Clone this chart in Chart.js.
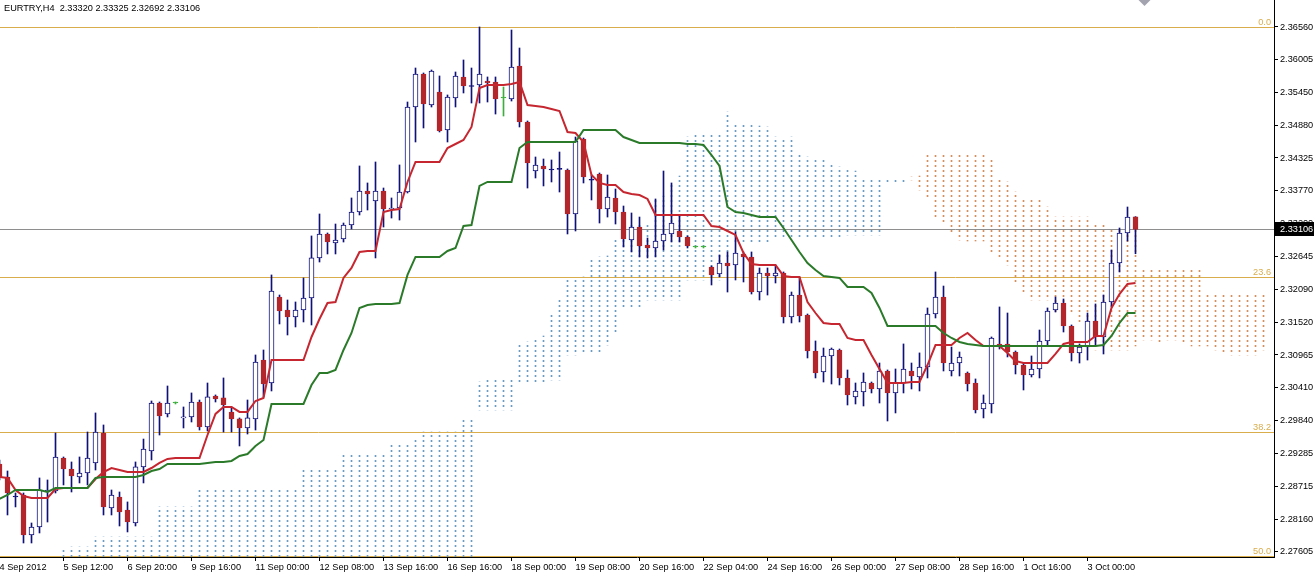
<!DOCTYPE html>
<html><head><meta charset="utf-8">
<script src="https://cdn.jsdelivr.net/npm/chart.js@4.4.1/dist/chart.umd.min.js"></script>
<style>html,body{margin:0;padding:0;background:#fff;overflow:hidden}canvas{display:block}</style>
</head><body>
<canvas id="c" width="1314" height="575" style="width:1314px;height:575px"></canvas>
<script>
const titleText = "EURTRY,H4  2.33320 2.33325 2.32692 2.33106";

const opens = [2.29106,2.28884,2.28543,2.28577,2.27895,2.28031,2.28628,2.28645,2.29208,2.29020,
2.28884,2.28952,2.29123,2.29634,2.28356,2.28543,2.28321,2.28099,2.29055,2.29327,
2.30146,2.29959,2.30146,2.29891,2.29908,2.30163,2.29737,2.30266,2.30232,2.29993,
2.29874,2.29720,2.29874,2.30879,2.30487,2.31954,2.31732,2.31613,2.31732,2.31937,
2.32620,2.33029,2.32875,2.32943,2.33182,2.33404,2.33762,2.33592,2.33762,2.33455,
2.33472,2.33745,2.35195,2.35758,2.35229,2.35451,2.34803,2.35349,2.35707,2.35553,
2.35570,2.35639,2.35621,2.35349,2.35331,2.35894,2.34939,2.34103,2.34189,2.34120,
2.34138,2.34120,2.33370,2.34649,2.33950,2.34052,2.33455,2.33643,2.33404,2.32926,
2.33148,2.32841,2.32790,2.32909,2.33029,2.33080,2.32977,2.32807,2.32807,2.32466,
2.32347,2.32534,2.32500,2.32688,2.32637,2.32039,2.32364,2.32313,2.32364,2.31613,
2.31988,2.31647,2.31033,2.30675,2.30948,2.31050,2.30573,2.30249,2.30334,2.30487,
2.30385,2.30692,2.30317,2.30487,2.30692,2.30590,2.30760,2.31664,2.31954,2.30692,
2.30828,2.30658,2.30487,2.30044,2.30129,2.31153,2.31153,2.31016,2.30794,2.30624,
2.30726,2.31204,2.31732,2.31852,2.31460,2.31000,2.31101,2.31545,2.31272,2.31869,
2.32534,2.33046,2.33320];
const highs = [2.29174,2.28986,2.28611,2.28611,2.28099,2.28867,2.28833,2.29634,2.29225,2.29140,
2.29225,2.29651,2.29976,2.29771,2.28662,2.28628,2.28458,2.29140,2.29531,2.30180,
2.30163,2.30436,2.30163,2.30078,2.30317,2.30197,2.30487,2.30283,2.30573,2.30078,
2.29891,2.30197,2.30965,2.31050,2.32330,2.31988,2.31903,2.31869,2.32279,2.32995,
2.33370,2.33046,2.33199,2.33216,2.33643,2.34189,2.33899,2.34257,2.33813,2.33643,
2.34206,2.35280,2.35860,2.35775,2.35826,2.35724,2.35400,2.35792,2.35997,2.35860,
2.36560,2.35707,2.35707,2.35536,2.36508,2.36201,2.34956,2.34342,2.34308,2.34291,
2.34427,2.34138,2.34683,2.34666,2.34035,2.34069,2.34035,2.33796,2.33506,2.33387,
2.33318,2.32960,2.33626,2.34103,2.33899,2.33353,2.32995,2.32824,2.32824,2.32483,
2.32671,2.32722,2.33063,2.32722,2.32722,2.32449,2.32449,2.32500,2.32381,2.32039,
2.32296,2.31664,2.31204,2.31084,2.31084,2.31067,2.30709,2.30487,2.30658,2.30504,
2.30828,2.30709,2.30726,2.31153,2.30828,2.31000,2.31767,2.32381,2.32141,2.31101,
2.31016,2.30675,2.30556,2.30283,2.31272,2.31784,2.31681,2.31033,2.30828,2.30948,
2.31391,2.31767,2.31954,2.31920,2.31477,2.31153,2.31681,2.31835,2.31988,2.32756,
2.33131,2.33489,2.33325];
const lows = [2.28833,2.28236,2.28373,2.27758,2.27758,2.27929,2.28116,2.28611,2.28748,2.28628,
2.28782,2.28748,2.29003,2.28236,2.28236,2.28048,2.27946,2.28048,2.28782,2.29174,
2.29600,2.29908,2.30129,2.29720,2.29822,2.29685,2.29668,2.30163,2.29651,2.29651,
2.29413,2.29617,2.29685,2.30249,2.30351,2.31494,2.31306,2.31443,2.31528,2.31477,
2.32551,2.32688,2.32688,2.32892,2.33114,2.33353,2.33438,2.32620,2.33148,2.33301,
2.33267,2.33728,2.34598,2.34837,2.35195,2.34769,2.34598,2.35195,2.35434,2.35263,
2.35263,2.35280,2.35075,2.35041,2.35297,2.34854,2.33813,2.33984,2.33848,2.33916,
2.33745,2.33029,2.33080,2.33899,2.33609,2.33216,2.33318,2.33199,2.32807,2.32722,
2.32637,2.32620,2.32637,2.32756,2.32892,2.32892,2.32790,2.32790,2.32790,2.32159,
2.32296,2.32039,2.32244,2.32210,2.32005,2.31903,2.31988,2.32193,2.31511,2.31511,
2.31528,2.30914,2.30573,2.30504,2.30470,2.30453,2.30112,2.30129,2.30095,2.30317,
2.30146,2.29839,2.29976,2.30317,2.30385,2.30351,2.30573,2.31596,2.30692,2.30607,
2.30607,2.30351,2.29976,2.29891,2.29976,2.31067,2.30931,2.30641,2.30368,2.30590,
2.30573,2.31118,2.31698,2.31357,2.30862,2.30828,2.30879,2.31135,2.30982,2.31784,
2.32381,2.32909,2.32692];
const closes = [2.28884,2.28611,2.28545,2.27895,2.28031,2.28662,2.28662,2.29225,2.29020,2.28901,
2.28952,2.29208,2.29651,2.28373,2.28577,2.28287,2.28116,2.29055,2.29361,2.30146,
2.29925,2.30146,2.30146,2.29908,2.30163,2.29737,2.30249,2.30214,2.30112,2.29874,
2.29720,2.29891,2.30845,2.30470,2.32056,2.31715,2.31613,2.31732,2.31937,2.32620,
2.33029,2.32892,2.32926,2.33182,2.33404,2.33762,2.33711,2.33762,2.33455,2.33472,
2.33745,2.35195,2.35758,2.35246,2.35809,2.34786,2.35366,2.35724,2.35553,2.35545,
2.35758,2.35604,2.35331,2.35349,2.35877,2.34939,2.34240,2.34206,2.34138,2.34128,
2.34130,2.33370,2.34615,2.34001,2.33945,2.33455,2.33660,2.33404,2.32943,2.33148,
2.32824,2.32790,2.32909,2.33029,2.33216,2.32977,2.32824,2.32807,2.32807,2.32330,
2.32534,2.32483,2.32705,2.32637,2.32039,2.32364,2.32313,2.32364,2.31613,2.31988,
2.31630,2.31033,2.30658,2.30948,2.31067,2.30573,2.30283,2.30351,2.30504,2.30385,
2.30692,2.30317,2.30487,2.30726,2.30607,2.30760,2.31664,2.31954,2.30828,2.30828,
2.30931,2.30470,2.30027,2.30146,2.31255,2.31101,2.31016,2.30794,2.30624,2.30726,
2.31204,2.31715,2.31852,2.31460,2.31000,2.31101,2.31545,2.31272,2.31869,2.32534,
2.33046,2.33318,2.33106];

const tenkan = [2.28884,2.28867,2.28662,2.28560,2.28526,2.28526,2.28526,2.28679,2.28696,2.28696,
2.28696,2.28696,2.28850,2.28969,2.29037,2.29003,2.28969,2.28969,2.28969,2.29037,
2.29123,2.29191,2.29208,2.29208,2.29208,2.29208,2.29600,2.29959,2.30078,2.30078,
2.29993,2.29993,2.30180,2.30232,2.30879,2.30879,2.30879,2.30879,2.30879,2.31272,
2.31579,2.31852,2.31869,2.32279,2.32449,2.32722,2.32739,2.32739,2.33404,2.33438,
2.33455,2.33916,2.34257,2.34257,2.34257,2.34257,2.34495,2.34564,2.34632,2.34854,
2.35519,2.35570,2.35570,2.35570,2.35587,2.35621,2.35229,2.35212,2.35195,2.35161,
2.35127,2.34769,2.34751,2.34598,2.34035,2.33899,2.33864,2.33864,2.33745,2.33711,
2.33694,2.33626,2.33353,2.33353,2.33353,2.33353,2.33353,2.33353,2.33353,2.33165,
2.33148,2.33080,2.33012,2.32705,2.32517,2.32500,2.32500,2.32500,2.32313,2.32296,
2.32296,2.31869,2.31681,2.31511,2.31494,2.31494,2.31255,2.31221,2.31221,2.30965,
2.30726,2.30487,2.30487,2.30487,2.30504,2.30504,2.30794,2.31135,2.31135,2.31135,
2.31255,2.31340,2.31221,2.31118,2.31118,2.31118,2.31000,2.30862,2.30828,2.30828,
2.30828,2.30828,2.30982,2.31153,2.31187,2.31187,2.31187,2.31289,2.31289,2.31767,
2.32005,2.32176,2.32193];
const kijun = [2.28509,2.28577,2.28662,2.28662,2.28662,2.28662,2.28628,2.28696,2.28696,2.28696,
2.28696,2.28696,2.28867,2.28884,2.28884,2.28884,2.28884,2.28884,2.28918,2.28986,
2.29020,2.29106,2.29106,2.29106,2.29106,2.29106,2.29123,2.29140,2.29140,2.29157,
2.29242,2.29276,2.29413,2.29515,2.30129,2.30129,2.30129,2.30129,2.30129,2.30453,
2.30658,2.30658,2.30709,2.31050,2.31340,2.31767,2.31818,2.31835,2.31835,2.31835,
2.31852,2.32330,2.32637,2.32637,2.32637,2.32637,2.32739,2.32790,2.33165,2.33182,
2.33848,2.33916,2.33916,2.33916,2.33916,2.34495,2.34598,2.34598,2.34598,2.34598,
2.34598,2.34598,2.34598,2.34803,2.34803,2.34803,2.34803,2.34803,2.34683,2.34632,
2.34581,2.34581,2.34581,2.34581,2.34581,2.34581,2.34564,2.34564,2.34547,2.34376,
2.34189,2.33489,2.33404,2.33387,2.33353,2.33318,2.33318,2.33318,2.33131,2.32926,
2.32722,2.32534,2.32415,2.32313,2.32296,2.32279,2.32124,2.32124,2.32124,2.32022,
2.31767,2.31460,2.31460,2.31460,2.31460,2.31460,2.31460,2.31460,2.31340,2.31255,
2.31187,2.31153,2.31135,2.31118,2.31118,2.31118,2.31118,2.31118,2.31118,2.31118,
2.31118,2.31118,2.31118,2.31118,2.31118,2.31118,2.31118,2.31118,2.31135,2.31289,
2.31511,2.31681,2.31681];

const spanA = [null,null,null,null,null,null,null,null,
2.27673,2.27690,2.27690,2.27690,
2.27860,2.27860,2.27860,2.27860,2.27860,2.27860,2.27860,2.27860,
2.28373,2.28373,2.28373,2.28373,2.28373,
2.28696,2.28696,2.28696,2.28696,2.28696,2.28696,2.28696,2.28696,2.28696,2.28696,2.28696,2.28696,2.28696,
2.29003,2.29003,2.29003,2.29003,2.29003,
2.29259,2.29259,2.29259,2.29259,2.29259,2.29259,
2.29430,2.29430,2.29430,
2.29515,
2.29651,2.29651,2.29651,2.29651,2.29651,
2.29891,2.29891,
2.30504,
2.30538,2.30538,2.30538,2.30538,
2.31135,2.31187,2.31255,2.31289,
2.31664,2.31903,
2.32244,2.32279,2.32296,
2.32620,2.32637,2.32654,
2.32926,
2.33182,2.33182,2.33182,2.33182,
2.33609,2.33677,2.33899,2.34018,
2.34683,
2.34734,2.34734,2.34734,2.34734,
2.35109,
2.34905,2.34905,2.34888,2.34871,2.34854,
2.34683,2.34666,2.34683,
2.34410,2.34342,2.34325,2.34325,
2.34206,2.34172,2.34138,2.34103,
2.33967,2.33950,2.33950,2.33950,2.33950,2.33950,2.33950,
2.33779,
2.33660,2.33284,2.33199,2.33046,2.32926,
2.32909,2.32909,2.32909,
2.32722,2.32603,2.32500,2.32193,2.32039,
2.31903,2.31903,2.31903,
2.31681,2.31664,2.31664,2.31494,2.31238,
2.31050,2.31050,2.31050,2.31050,2.31050,
2.31118,2.31221,2.31221,2.31187,2.31221,2.31221,2.31170,2.31118,2.31118,
2.31118,2.31050,2.31000,2.30965,2.30965,2.30965,2.30965,2.31050];
const spanB = [null,null,null,null,null,null,null,null,
2.27000,2.27000,2.27000,2.27000,2.27000,2.27000,2.27000,2.27000,2.27000,2.27000,
2.27000,2.27000,2.27000,2.27000,2.27000,2.27000,2.27000,2.27000,2.27000,2.27000,
2.27000,2.27000,2.27000,2.27000,2.27000,2.27000,2.27000,2.27000,2.27000,2.27000,
2.27000,2.27000,2.27000,2.27000,2.27000,2.27000,2.27000,2.27000,2.27000,2.27000,
2.27000,2.27000,2.27000,2.27000,2.27000,2.27000,2.27000,2.27000,2.27000,2.27000,
2.27000,2.27000,
2.30027,2.30027,2.30027,2.30027,2.30027,
2.30487,2.30487,2.30487,2.30487,
2.30538,2.30538,
2.30965,2.30965,
2.31000,2.31000,2.31000,
2.31135,
2.31340,
2.31784,2.31784,2.31784,
2.31903,2.31903,2.31903,2.31903,2.31903,
2.32244,2.32244,2.32244,2.32244,2.32244,
2.32637,
2.32875,2.32875,2.32875,2.32875,2.32875,
2.32977,2.32977,2.32977,2.32977,2.32977,2.32977,2.32977,2.32977,2.32977,
2.33012,2.33012,2.33012,2.33012,2.33012,
2.33882,2.33916,2.33916,2.34001,2.34018,
2.34376,2.34376,2.34376,2.34376,2.34376,2.34376,2.34376,2.34376,
2.34325,2.33950,2.33916,2.33745,
2.33609,2.33609,2.33609,
2.33489,
2.33318,2.33318,2.33318,2.33318,2.33318,
2.33216,2.33216,
2.33097,2.33097,2.33097,2.33097,
2.32415,2.32415,2.32415,2.32415,2.32415,2.32415,2.32415,2.32415,
2.31988,2.31988,2.31988,2.31988,2.31988,2.31988,2.31988,2.31988];

const xTickBars = [0,8,16,24,32,40,48,56,64,72,80,88,96,104,112,120,128,136];
const xTickLabels = ["4 Sep 2012","5 Sep 12:00","6 Sep 20:00","9 Sep 16:00","11 Sep 00:00","12 Sep 08:00",
"13 Sep 16:00","16 Sep 16:00","18 Sep 00:00","19 Sep 08:00","20 Sep 16:00","22 Sep 04:00",
"24 Sep 16:00","26 Sep 00:00","27 Sep 08:00","28 Sep 16:00","1 Oct 16:00","3 Oct 00:00"];
const yTickValues = [2.36560,2.36005,2.35450,2.34880,2.34325,2.33770,2.33200,2.32645,2.32090,
2.31520,2.30965,2.30410,2.29840,2.29285,2.28715,2.28160,2.27605];
const fibLevels = [2.36560,2.32290,2.29643,2.27530];
const fibLabels = ["0.0","23.6","38.2","50.0"];
const currentPrice = 2.33106;

const Y_MIN = 2.27519, Y_MAX = 2.37020;
const X_MIN = 0.0625, X_MAX = 159.3125;
const FONT = '"Liberation Sans", Arial, sans-serif';
const FS = 9.2;
const BULL = '#10107a', BEAR = '#b3262b', DOJI = '#3dae3d', FIB = '#d9ad4c';

const n = closes.length;
const bodyData = [], wickData = [], bodyFill = [], bodyLine = [], wickCol = [];
for (let i = 0; i < n; i++) {
  const o = opens[i], c = closes[i];
  bodyData.push({x: i, y: [Math.min(o, c), Math.max(o, c)]});
  wickData.push({x: i, y: [lows[i], highs[i]]});
  const tiny = Math.abs(c - o) < 0.0001;
  if (o === c) { bodyFill.push(DOJI); bodyLine.push(DOJI); wickCol.push(DOJI); }
  else if (c > o) { bodyFill.push(tiny ? BULL : '#ffffff'); bodyLine.push(BULL); wickCol.push(BULL); }
  else { bodyFill.push(tiny ? BULL : BEAR); bodyLine.push(tiny ? BULL : BEAR); wickCol.push(tiny ? BULL : BULL); }
}

function dotPattern(color) {
  const pc = document.createElement('canvas');
  pc.width = 1; pc.height = 5;
  const g = pc.getContext('2d');
  g.fillStyle = color; g.fillRect(0, 0, 1, 2);
  return document.getElementById('c').getContext('2d').createPattern(pc, 'repeat');
}
const bluePat = dotPattern('#6b9bc3');
const orangePat = dotPattern('#d48f5c');
const cloudData = [], cloudCol = [];
for (let i = 0; i < spanA.length; i++) {
  if (spanA[i] === null) continue;
  cloudData.push({x: i, y: [Math.min(spanA[i], spanB[i]), Math.max(spanA[i], spanB[i])]});
  cloudCol.push(spanA[i] >= spanB[i] ? bluePat : orangePat);
}

const overlay = {
  id: 'overlay',
  beforeDatasetsDraw(chart) {
    const {ctx, chartArea: a, scales: {y}} = chart;
    ctx.save();
    ctx.lineWidth = 1;
    ctx.strokeStyle = FIB;
    fibLevels.forEach(v => {
      const py = Math.round(y.getPixelForValue(v)) + 0.5;
      ctx.beginPath(); ctx.moveTo(a.left, py); ctx.lineTo(a.right, py); ctx.stroke();
    });
    const cp = Math.round(y.getPixelForValue(currentPrice)) + 0.5;
    ctx.strokeStyle = '#8e8e8e';
    ctx.beginPath(); ctx.moveTo(a.left, cp); ctx.lineTo(a.right, cp); ctx.stroke();
    ctx.restore();
  },
  afterDraw(chart) {
    const {ctx, chartArea: a, scales: {x, y}} = chart;
    ctx.save();
    ctx.font = FS + 'px ' + FONT;
    ctx.fillStyle = FIB;
    ctx.textAlign = 'right';
    ctx.textBaseline = 'bottom';
    fibLevels.forEach((v, i) => {
      const py = Math.round(y.getPixelForValue(v));
      ctx.fillText(fibLabels[i], a.right - 3, py);
    });
    ctx.fillStyle = '#000';
    ctx.textAlign = 'left';
    ctx.textBaseline = 'middle';
    ctx.fillText(titleText, 4, 8);
    const cp = Math.round(y.getPixelForValue(currentPrice));
    ctx.fillStyle = '#000';
    ctx.fillRect(a.right + 1, cp - 7, 39, 14);
    ctx.fillStyle = '#fff';
    ctx.fillText(currentPrice.toFixed(5), a.right + 6, cp + 0.5);
    const sx = Math.round(x.getPixelForValue(n)) + 0.5;
    ctx.fillStyle = '#a3a3b0';
    ctx.beginPath(); ctx.moveTo(sx - 6, 0); ctx.lineTo(sx + 6, 0); ctx.lineTo(sx, 6); ctx.closePath(); ctx.fill();
    ctx.restore();
  }
};

new Chart(document.getElementById('c'), {
  type: 'bar',
  data: {
    datasets: [
      {type: 'line', data: kijun.map((v, i) => ({x: i, y: v})), borderColor: '#2a7a2a', borderWidth: 2,
        pointRadius: 0, tension: 0, fill: false, order: 1},
      {type: 'line', data: tenkan.map((v, i) => ({x: i, y: v})), borderColor: '#c5262f', borderWidth: 2,
        pointRadius: 0, tension: 0, fill: false, order: 2},
      {data: bodyData, backgroundColor: bodyFill, borderColor: bodyLine, borderWidth: 1, borderSkipped: false,
        barThickness: 5, minBarLength: 1, grouped: false, order: 3},
      {data: wickData, backgroundColor: wickCol, borderWidth: 0, barThickness: 1, grouped: false, order: 4},
      {data: cloudData, backgroundColor: cloudCol, borderWidth: 0, barThickness: 1, grouped: false, order: 5}
    ]
  },
  options: {
    responsive: false, animation: false, devicePixelRatio: 1, events: [],
    layout: {padding: 0},
    plugins: {legend: {display: false}, tooltip: {enabled: false}},
    scales: {
      x: {
        type: 'linear', min: X_MIN, max: X_MAX, offset: false,
        grid: {display: true, drawOnChartArea: false, drawTicks: true, tickLength: 4, color: '#000', offset: false},
        border: {display: true, color: '#000', width: 1},
        ticks: {autoSkip: false, maxRotation: 0, align: 'start', padding: 1, color: '#000',
          font: {family: FONT, size: FS}, callback: (v, i) => xTickLabels[i]},
        afterBuildTicks: s => { s.ticks = xTickBars.map(v => ({value: v})); },
        afterFit: s => { s.height = 18; s.paddingLeft = 0; s.paddingRight = 0; s.paddingTop = 0; s.paddingBottom = 0; }
      },
      y: {
        type: 'linear', position: 'right', min: Y_MIN, max: Y_MAX,
        grid: {display: true, drawOnChartArea: false, drawTicks: true, tickLength: 4, color: '#000'},
        border: {display: true, color: '#000', width: 1},
        ticks: {autoSkip: false, padding: 2, color: '#000', font: {family: FONT, size: FS},
          callback: v => Number(v).toFixed(5)},
        afterBuildTicks: s => { s.ticks = yTickValues.map(v => ({value: v})); },
        afterFit: s => { s.width = 40; s.paddingLeft = 0; s.paddingRight = 0; s.paddingTop = 0; s.paddingBottom = 0; }
      }
    }
  },
  plugins: [overlay]
});
</script>
</body></html>
